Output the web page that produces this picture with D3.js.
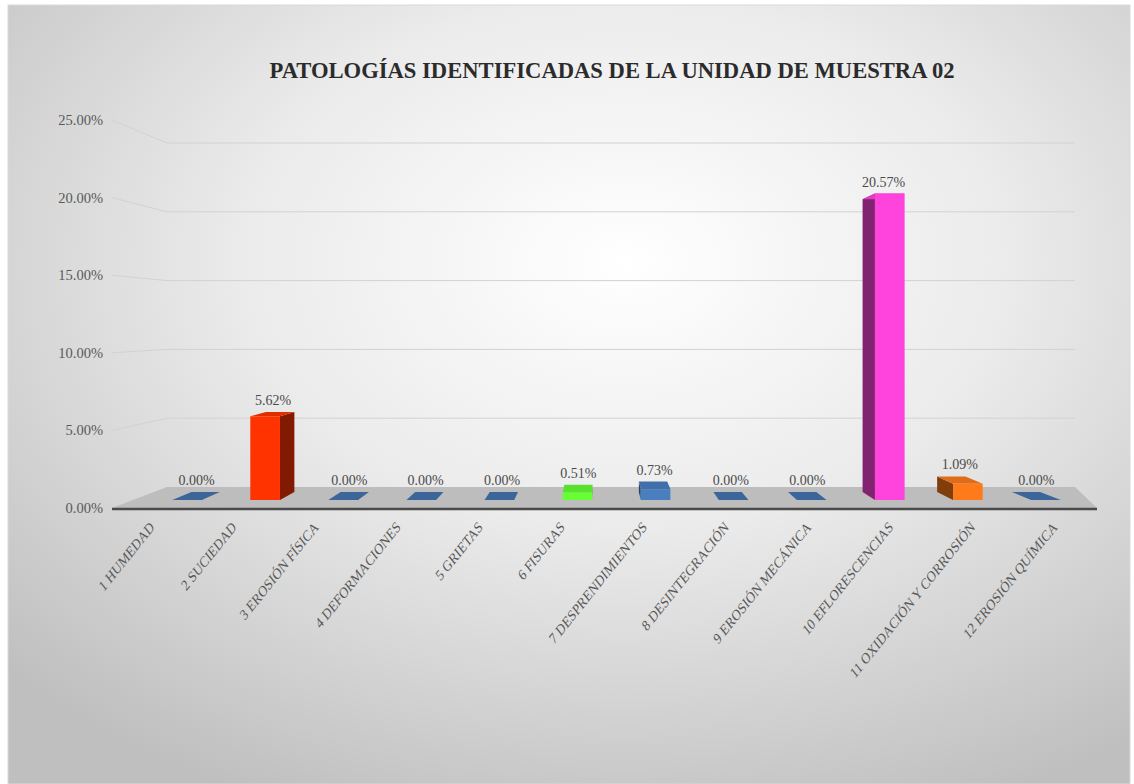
<!DOCTYPE html>
<html>
<head>
<meta charset="utf-8">
<script src="https://cdn.jsdelivr.net/npm/d3@7"></script>
<style>
  html, body { margin: 0; padding: 0; background: #ffffff; }
  svg { display: block; }
  text { font-family: "Liberation Serif", "Times New Roman", serif; }
</style>
</head>
<body>
<svg id="chart" width="1134" height="784"></svg>
<script>
// ---- data ----
const title = "PATOLOGÍAS IDENTIFICADAS DE LA  UNIDAD DE MUESTRA 02";
const categories = [
  "1 HUMEDAD", "2 SUCIEDAD", "3 EROSIÓN  FÍSICA", "4 DEFORMACIONES",
  "5 GRIETAS", "6 FISURAS", "7 DESPRENDIMIENTOS", "8 DESINTEGRACIÓN",
  "9 EROSIÓN MECÁNICA", "10 EFLORESCENCIAS", "11 OXIDACIÓN Y CORROSIÓN",
  "12 EROSIÓN QUÍMICA"
];
const values = [0, 5.62, 0, 0, 0, 0.51, 0.73, 0, 0, 20.57, 1.09, 0];
const barColors = [
  "#4a7ebf", "#ff3300", "#4a7ebf", "#4a7ebf", "#4a7ebf", "#66ff33",
  "#4a7ebf", "#4a7ebf", "#4a7ebf", "#ff44dd", "#ff7a1a", "#4a7ebf"
];
const yTicks = [0, 5, 10, 15, 20, 25];

// ---- layout ----
const W = 1134, H = 784;
const svg = d3.select("#chart");
const fmt = v => v.toFixed(2) + "%";

// background with soft radial shading
const defs = svg.append("defs");
const rg = defs.append("radialGradient").attr("id", "bg")
  .attr("cx", 0.55).attr("cy", 0.33).attr("r", 0.76);
rg.append("stop").attr("offset", 0).attr("stop-color", "#ffffff");
rg.append("stop").attr("offset", 0.45).attr("stop-color", "#ebebeb");
rg.append("stop").attr("offset", 1).attr("stop-color", "#bfbfbf");
svg.append("rect").attr("x", 8).attr("y", 5).attr("width", W - 12).attr("height", H - 5)
  .attr("fill", "url(#bg)").attr("stroke", "#d9d9d9");

// 3D projection: front plane (axis labels, floor front edge) and back wall
const frontX = [112, 1097], backX = [167, 1075];
const yFront = d3.scaleLinear().domain([0, 25]).range([508, 508 - 25 * 15.52]);
const yBack = d3.scaleLinear().domain([0, 25]).range([487, 487 - 25 * 13.76]);
const xFront = d3.scaleBand().domain(categories).range(frontX);

// bar plane sits between the two, receding toward a vanishing point
const xBar = d3.scaleBand().domain(categories).range([148, 1085])
  .paddingInner(0.62).paddingOuter(0.31);
const yBar = d3.scaleLinear().domain([0, 25]).range([500, 500 - 25 * 14.9]);
const VP = [600, 320], depthK = 0.045;
const recede = ([x, y]) => [x + depthK * (VP[0] - x), y + depthK * (VP[1] - y)];

// gridlines on the back wall plus their run along the side wall
const grid = svg.append("g").attr("fill", "none").attr("stroke", "#d2d2d2").attr("stroke-width", 1);
yTicks.filter(t => t > 0).forEach(t => {
  grid.append("path").attr("d", d3.line()([
    [frontX[0], yFront(t)], [backX[0], yBack(t)], [backX[1], yBack(t)]
  ]));
});

// y-axis labels
svg.append("g").selectAll("text").data(yTicks).join("text")
  .attr("x", 103).attr("y", d => yFront(d)).attr("dy", "0.35em")
  .attr("text-anchor", "end").attr("font-size", 14.5).attr("fill", "#595959")
  .text(fmt);

// floor
svg.append("path")
  .attr("d", d3.line()([
    [frontX[0], yFront(0)], [backX[0], yBack(0)], [backX[1], yBack(0)], [frontX[1], yFront(0)]
  ]) + "Z")
  .attr("fill", "#bdbdbd");
svg.append("line")
  .attr("x1", frontX[0]).attr("x2", frontX[1])
  .attr("y1", yFront(0) + 1).attr("y2", yFront(0) + 1)
  .attr("stroke", "#4a4a4a").attr("stroke-width", 2.5);

// bars
const bars = svg.append("g");
categories.forEach((cat, i) => {
  const v = values[i];
  const x0 = xBar(cat), x1 = x0 + xBar.bandwidth();
  const yb = yBar(0), yt = yBar(v);
  const fl = [x0, yb], fr = [x1, yb], tl = [x0, yt], tr = [x1, yt];
  const [bfl, bfr, btl, btr] = [fl, fr, tl, tr].map(recede);
  const c = d3.color(barColors[i]);
  const side = c.darker(1.9).formatHex();
  const top = c.darker(v > 0 ? 0.35 : 0.6).formatHex();
  const centre = (x0 + x1) / 2;
  const poly = pts => d3.line()(pts) + "Z";

  // side face visible on the side facing the vanishing point
  if (centre < VP[0]) {
    bars.append("path").attr("d", poly([fr, bfr, btr, tr])).attr("fill", side);
  } else {
    bars.append("path").attr("d", poly([fl, bfl, btl, tl])).attr("fill", side);
  }
  bars.append("path").attr("d", poly([tl, tr, btr, btl])).attr("fill", top);
  if (v > 0) {
    bars.append("rect").attr("x", x0).attr("y", yt)
      .attr("width", x1 - x0).attr("height", yb - yt).attr("fill", barColors[i]);
  }

  // value label above the bar
  const labelY = Math.min(yt, btl[1]) - 7;
  bars.append("text")
    .attr("x", centre + (btl[0] - tl[0]) / 2).attr("y", labelY)
    .attr("text-anchor", "middle").attr("font-size", 14).attr("fill", "#4a4a4a")
    .text(fmt(v));
});

// category labels, slanted
svg.append("g").selectAll("text").data(categories).join("text")
  .attr("transform", d => `translate(${xFront(d) + xFront.bandwidth() / 2 + 2},${yFront(0) + 20}) scale(0.8,1) rotate(-45)`)
  .attr("text-anchor", "end").attr("font-size", 15.5).attr("fill", "#595959")
  .text(d => d);

// title
svg.append("text")
  .attr("x", 612).attr("y", 78)
  .attr("text-anchor", "middle").attr("font-size", 24).attr("font-weight", "bold")
  .attr("fill", "#2b2b2b")
  .attr("textLength", 685).attr("lengthAdjust", "spacingAndGlyphs")
  .text(title);
</script>
</body>
</html>
